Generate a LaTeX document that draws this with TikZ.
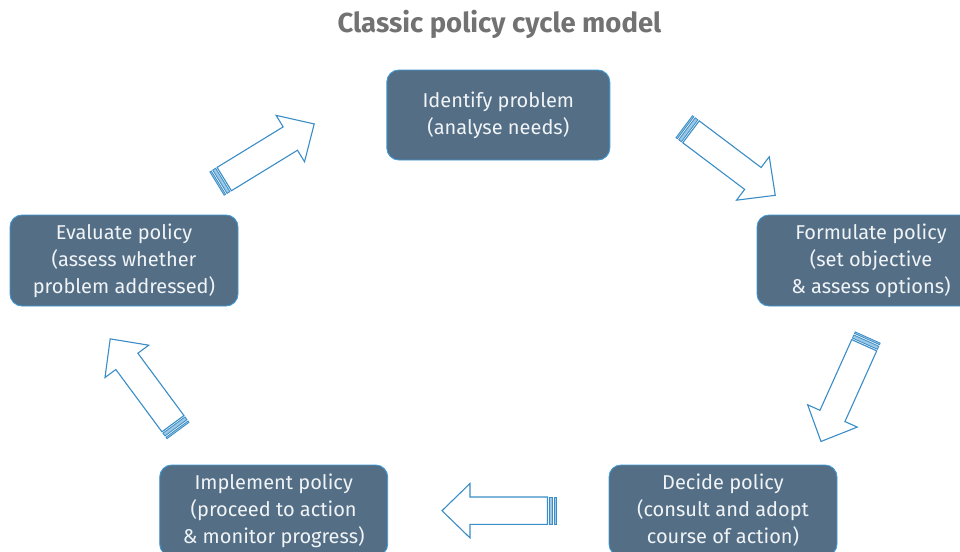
\documentclass[tikz,border=0pt]{standalone}
\usepackage{fontspec}
\setmainfont{Fira Sans}
\definecolor{boxfill}{HTML}{546E85}
\definecolor{boxborder}{HTML}{3E9AD6}
\definecolor{boxtext}{HTML}{F0F4F7}
\definecolor{arrowblue}{HTML}{3A8DC6}
\definecolor{stripefill}{HTML}{9CC8E6}
\definecolor{titlegray}{HTML}{727272}
\newcommand\stripedarrow[2]{%
  \begin{scope}[shift={(#1)}, rotate=#2]
    \draw[arrowbody] (8.5,-13.7) -- (86,-13.7) -- (86,-27.2) -- (114,0) -- (86,27.2) -- (86,13.7) -- (8.5,13.7) -- cycle;
    \draw[arrowstripe] (0,-13.7) rectangle (1.7,13.7);
    \draw[arrowstripe] (3.4,-13.7) rectangle (6.8,13.7);
  \end{scope}}
\begin{document}
\begin{tikzpicture}[x=1pt,y=-1pt,
  stage/.style={draw=boxborder, line width=0.9pt, fill=boxfill, rounded corners=12pt,
    minimum width=228pt, minimum height=91pt, align=center, text=boxtext,
    font=\fontsize{20}{27}\selectfont, inner sep=0pt},
  arrowbody/.style={draw=arrowblue, line width=1.1pt, fill=white, line join=miter},
  arrowstripe/.style={draw=arrowblue, line width=0.8pt, fill=stripefill}]
  \useasboundingbox (0,0) rectangle (960,551);
  \clip (0,0) rectangle (960,551);
  \node[font=\fontsize{27.5}{32}\selectfont\bfseries, text=titlegray] (title) at (499.5,24) {Classic policy cycle model};
  \node[stage, minimum width=223pt, minimum height=90pt] (identify) at (498.3,115) {Identify problem\\(analyse needs)};
  \node[stage] (formulate) at (871,260.5) {Formulate policy\\(set objective\\\& assess options)};
  \node[stage] (decide) at (723,510.5) {Decide policy\\(consult and adopt\\course of action)};
  \node[stage] (implement) at (273.7,510.5) {Implement policy\\(proceed to action\\\& monitor progress)};
  \node[stage] (evaluate) at (124,260.5) {Evaluate policy\\(assess whether\\problem addressed)};
  \coordinate (a1) at (217,183.5);
  \coordinate (a2) at (684.2,126.7);
  \coordinate (a3) at (867.7,337.5);
  \coordinate (a4) at (556,510.7);
  \coordinate (a5) at (178,430.5);
  \stripedarrow{a1}{31.5}
  \stripedarrow{a2}{-37}
  \stripedarrow{a3}{-114.2}
  \stripedarrow{a4}{180}
  \stripedarrow{a5}{126.5}
\end{tikzpicture}
\end{document}
